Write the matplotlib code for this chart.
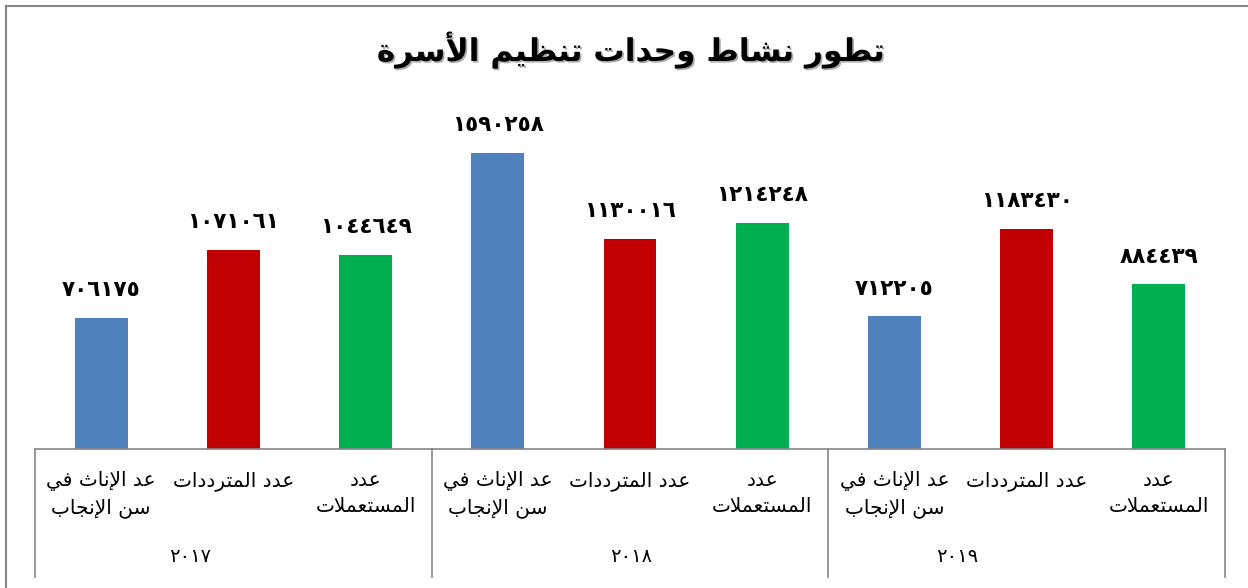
import matplotlib
matplotlib.use("Agg")
import matplotlib.pyplot as plt
import matplotlib.patheffects as pe
from matplotlib.lines import Line2D
import numpy as np

# ---------------- data ----------------
title = "تطور نشاط وحدات تنظيم الأسرة"
years = [2017, 2018, 2019]
categories = ["عد الإناث في\nسن الإنجاب", "عدد المترددات", "عدد\nالمستعملات"]
women_reproductive_age = [706175, 1590258, 712205]
visitors = [1071061, 1130016, 1183430]
users = [1044649, 1214248, 884439]
colors = ["#4F81BD", "#C00000", "#00B050"]

# ---------------- Arabic shaping (matplotlib has no bidi/shaping) ----------------
FORMS = {
    '\u0621': ('\uFE80', None, None, None),
    '\u0622': ('\uFE81', '\uFE82', None, None),
    '\u0623': ('\uFE83', '\uFE84', None, None),
    '\u0624': ('\uFE85', '\uFE86', None, None),
    '\u0625': ('\uFE87', '\uFE88', None, None),
    '\u0626': ('\uFE89', '\uFE8A', '\uFE8B', '\uFE8C'),
    '\u0627': ('\uFE8D', '\uFE8E', None, None),
    '\u0628': ('\uFE8F', '\uFE90', '\uFE91', '\uFE92'),
    '\u0629': ('\uFE93', '\uFE94', None, None),
    '\u062A': ('\uFE95', '\uFE96', '\uFE97', '\uFE98'),
    '\u062B': ('\uFE99', '\uFE9A', '\uFE9B', '\uFE9C'),
    '\u062C': ('\uFE9D', '\uFE9E', '\uFE9F', '\uFEA0'),
    '\u062D': ('\uFEA1', '\uFEA2', '\uFEA3', '\uFEA4'),
    '\u062E': ('\uFEA5', '\uFEA6', '\uFEA7', '\uFEA8'),
    '\u062F': ('\uFEA9', '\uFEAA', None, None),
    '\u0630': ('\uFEAB', '\uFEAC', None, None),
    '\u0631': ('\uFEAD', '\uFEAE', None, None),
    '\u0632': ('\uFEAF', '\uFEB0', None, None),
    '\u0633': ('\uFEB1', '\uFEB2', '\uFEB3', '\uFEB4'),
    '\u0634': ('\uFEB5', '\uFEB6', '\uFEB7', '\uFEB8'),
    '\u0635': ('\uFEB9', '\uFEBA', '\uFEBB', '\uFEBC'),
    '\u0636': ('\uFEBD', '\uFEBE', '\uFEBF', '\uFEC0'),
    '\u0637': ('\uFEC1', '\uFEC2', '\uFEC3', '\uFEC4'),
    '\u0638': ('\uFEC5', '\uFEC6', '\uFEC7', '\uFEC8'),
    '\u0639': ('\uFEC9', '\uFECA', '\uFECB', '\uFECC'),
    '\u063A': ('\uFECD', '\uFECE', '\uFECF', '\uFED0'),
    '\u0641': ('\uFED1', '\uFED2', '\uFED3', '\uFED4'),
    '\u0642': ('\uFED5', '\uFED6', '\uFED7', '\uFED8'),
    '\u0643': ('\uFED9', '\uFEDA', '\uFEDB', '\uFEDC'),
    '\u0644': ('\uFEDD', '\uFEDE', '\uFEDF', '\uFEE0'),
    '\u0645': ('\uFEE1', '\uFEE2', '\uFEE3', '\uFEE4'),
    '\u0646': ('\uFEE5', '\uFEE6', '\uFEE7', '\uFEE8'),
    '\u0647': ('\uFEE9', '\uFEEA', '\uFEEB', '\uFEEC'),
    '\u0648': ('\uFEED', '\uFEEE', None, None),
    '\u0649': ('\uFEEF', '\uFEF0', None, None),
    '\u064A': ('\uFEF1', '\uFEF2', '\uFEF3', '\uFEF4'),
}
LAM_ALEF = {'\u0622': ('\uFEF5', '\uFEF6'), '\u0623': ('\uFEF7', '\uFEF8'),
            '\u0625': ('\uFEF9', '\uFEFA'), '\u0627': ('\uFEFB', '\uFEFC')}


def shape_line(s):
    toks = []
    i = 0
    while i < len(s):
        c = s[i]
        if c == '\u0644' and i + 1 < len(s) and s[i + 1] in LAM_ALEF:
            f = LAM_ALEF[s[i + 1]]
            toks.append((f[0], f[1], None, None))
            i += 2
            continue
        toks.append(FORMS.get(c, c))
        i += 1
    out = []
    for j, t in enumerate(toks):
        if isinstance(t, str):
            out.append(t)
            continue
        prev = toks[j - 1] if j > 0 else None
        nxt = toks[j + 1] if j + 1 < len(toks) else None
        jp = isinstance(prev, tuple) and prev[2] is not None and t[1] is not None
        jn = isinstance(nxt, tuple) and t[2] is not None and nxt[1] is not None
        if jp and jn:
            out.append(t[3])
        elif jp:
            out.append(t[1])
        elif jn:
            out.append(t[2])
        else:
            out.append(t[0])
    return ''.join(reversed(out))


def ar(s):
    return '\n'.join(shape_line(l) for l in s.split('\n'))


AR_DIGITS = str.maketrans('0123456789', '٠١٢٣٤٥٦٧٨٩')


def ar_num(v):
    return str(v).translate(AR_DIGITS)


# ---------------- figure ----------------
plt.rcParams['font.family'] = ['DejaVu Sans']
W, H = 1248, 588
fig = plt.figure(figsize=(W / 100, H / 100), dpi=100)
fig.patch.set_facecolor('white')

ax_left, ax_right, ax_bottom, ax_top = 35, 1225, 449, 114
ax = fig.add_axes([ax_left / W, 1 - ax_bottom / H,
                   (ax_right - ax_left) / W, (ax_bottom - ax_top) / H])

series = [women_reproductive_age, visitors, users]
n_groups = len(years)
n_cat = len(categories)
bar_w = 0.40
for k in range(n_cat):
    xs = np.arange(n_groups) * n_cat + k
    vals = series[k]
    ax.bar(xs, vals, width=bar_w, color=colors[k], zorder=2)
    for x, v in zip(xs, vals):
        ax.annotate(ar_num(v), (x, v), xytext=(0, 20), textcoords='offset points',
                    ha='center', va='center', fontsize=15.5, fontweight='bold',
                    color='black')

ax.set_xlim(-0.5, n_groups * n_cat - 0.5)
ax.set_ylim(0, 1.8e6)
for s in ['top', 'right', 'left']:
    ax.spines[s].set_visible(False)
ax.spines['bottom'].set_color('#868686')
ax.spines['bottom'].set_linewidth(1.2)
ax.set_xticks([])
ax.set_yticks([])

trans = ax.get_xaxis_transform()
sep_bottom = (ax_bottom - 577) / (ax_bottom - ax_top)
for g in range(n_groups + 1):
    xg = g * n_cat - 0.5
    ax.add_line(Line2D([xg, xg], [0, sep_bottom], transform=trans, color='#868686',
                       lw=1.2, clip_on=False))

cat_y = (ax_bottom - 471) / (ax_bottom - ax_top)
for g in range(n_groups):
    for k in range(n_cat):
        ax.text(g * n_cat + k, cat_y, ar(categories[k]), transform=trans,
                ha='center', va='top', fontsize=14.5, linespacing=1.5,
                multialignment='center', color='black')

year_px = [190, 631, 957]
year_y = (ax_bottom - 557) / (ax_bottom - ax_top)
for g in range(n_groups):
    xd = (year_px[g] - ax_left) / (ax_right - ax_left) * (n_groups * n_cat) - 0.5
    ax.text(xd, year_y, ar_num(years[g]), transform=trans, ha='center', va='center',
            fontsize=14, color='black')

# title with shadow
fig.text(631 / W, 1 - 50 / H, ar(title), ha='center', va='center', fontsize=22.5,
         fontweight='bold', color='black',
         path_effects=[pe.withSimplePatchShadow(offset=(1.2, -1.2), shadow_rgbFace='#9a9a9a',
                                                alpha=0.8)])

# chart-area border (left and top visible)
fig.add_artist(Line2D([6 / W, 6 / W], [0, 1 - 6 / H], transform=fig.transFigure,
                      color='#868686', lw=1.5))
fig.add_artist(Line2D([6 / W, 1], [1 - 6 / H, 1 - 6 / H], transform=fig.transFigure,
                      color='#868686', lw=1.5))

fig.savefig('out.png', dpi=100, facecolor='white')
